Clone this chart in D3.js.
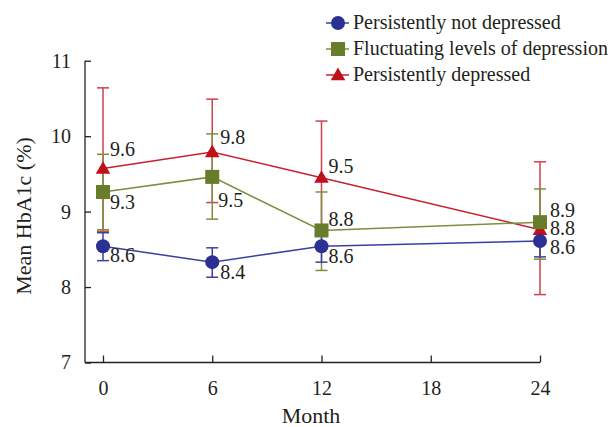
<!DOCTYPE html>
<html><head><meta charset="utf-8">
<script src="https://cdn.jsdelivr.net/npm/d3@7"></script>
<style>body{margin:0;background:#fff}svg{display:block}
svg text{font-family:"Liberation Serif","Times New Roman","DejaVu Serif",serif;}</style>
</head><body>
<svg id="c" width="613" height="427"></svg>
<script>
const months = [0, 6, 12, 24];
const seriesNames = ["Persistently not depressed", "Fluctuating levels of depression", "Persistently depressed"];
const notDepMean = [8.54, 8.33, 8.54, 8.61];
const notDepLow  = [8.35, 8.13, 8.33, 8.40];
const notDepHigh = [8.72, 8.52, 8.71, 8.80];
const notDepLabels = ["8.6", "8.4", "8.6", "8.6"];
const fluctMean = [9.26, 9.46, 8.75, 8.86];
const fluctLow  = [8.76, 8.90, 8.22, 8.37];
const fluctHigh = [9.76, 10.03, 9.26, 9.30];
const fluctLabels = ["9.3", "9.5", "8.8", "8.9"];
const depMean = [9.57, 9.79, 9.45, 8.76];
const depLow  = [8.74, 9.12, 8.72, 7.90];
const depHigh = [10.64, 10.49, 10.20, 9.66];
const depLabels = ["9.6", "9.8", "9.5", "8.8"];
const xTicks = [0, 6, 12, 18, 24];
const yTicks = [7, 8, 9, 10, 11];

// label offsets (layout, px) per series per point
const labelOffsets = [
  [[7, 16], [8, 17], [7, 17], [10, 13]],
  [[7, 17], [6, 30], [7, -4], [10, -5]],
  [[7, -13], [8, -8], [7, -5], [10, 5]]
];

const FONT = '"Liberation Serif", "Times New Roman", "DejaVu Serif", serif';
const INK = "#231f20";
const svg = d3.select("#c");
const x = d3.scaleLinear().domain([0, 24]).range([103, 540]);
const y = d3.scaleLinear().domain([7, 11]).range([362.5, 60.7]);

function styleText(sel, size) {
  return sel.style("font-family", FONT).style("font-size", size + "px").attr("fill", INK);
}

// axes
const gx = svg.append("g").attr("transform", "translate(0,362.5)")
  .call(d3.axisBottom(x).tickValues(xTicks).tickSizeInner(-7).tickSizeOuter(0).tickPadding(18));
gx.attr("font-family", null).attr("font-size", null);
gx.select(".domain").attr("d", "M85,0H540").attr("stroke", "#222").attr("stroke-width", 1.3);
gx.selectAll(".tick line").attr("stroke", "#222").attr("stroke-width", 1.3);
styleText(gx.selectAll(".tick text"), 20);

const gy = svg.append("g").attr("transform", "translate(85,0)")
  .call(d3.axisLeft(y).tickValues(yTicks).tickFormat(d3.format("d")).tickSizeInner(-6).tickSizeOuter(0).tickPadding(14));
gy.attr("font-family", null).attr("font-size", null);
gy.select(".domain").attr("d", "M0,60.7V362.5").attr("stroke", "#222").attr("stroke-width", 1.3);
gy.selectAll(".tick line").attr("stroke", "#222").attr("stroke-width", 1.3);
styleText(gy.selectAll(".tick text"), 20);

styleText(svg.append("text").attr("x", 311).attr("y", 423).attr("text-anchor", "middle"), 22).text("Month");
styleText(svg.append("text").attr("transform", "translate(31,216) rotate(-90)").attr("text-anchor", "middle"), 22)
  .text("Mean HbA1c (%)");

const series = [
  {name: seriesNames[0], mean: notDepMean, low: notDepLow, high: notDepHigh, labels: notDepLabels,
   color: "#2b3092", line: "#3b40a0", err: "#3b40a0", shape: "circle"},
  {name: seriesNames[1], mean: fluctMean, low: fluctLow, high: fluctHigh, labels: fluctLabels,
   color: "#677d2c", line: "#7c8f3f", err: "#7c8f3f", shape: "square"},
  {name: seriesNames[2], mean: depMean, low: depLow, high: depHigh, labels: depLabels,
   color: "#c0101c", line: "#c8202c", err: "#d0404c", shape: "triangle"}
];

function marker(g, shape, cx, cy, color) {
  if (shape === "circle") g.append("circle").attr("cx", cx).attr("cy", cy).attr("r", 7).attr("fill", color);
  else if (shape === "square") g.append("rect").attr("x", cx - 7).attr("y", cy - 7).attr("width", 14).attr("height", 14).attr("fill", color);
  else g.append("path").attr("d", d3.symbol(d3.symbolTriangle, 92)()).attr("transform", `translate(${cx},${cy + 1})`).attr("fill", color);
}

const drawOrder = [2, 1, 0];
const lineGen = d3.line().x(d => x(d[0])).y(d => y(d[1]));
drawOrder.forEach(si => {
  const s = series[si];
  const g = svg.append("g");
  months.forEach((m, i) => {
    const cx = x(m);
    g.append("line").attr("x1", cx).attr("x2", cx).attr("y1", y(s.low[i])).attr("y2", y(s.high[i]))
      .attr("stroke", s.err).attr("stroke-width", 1.5);
    [s.low[i], s.high[i]].forEach(v => g.append("line").attr("x1", cx - 6).attr("x2", cx + 6)
      .attr("y1", y(v)).attr("y2", y(v)).attr("stroke", s.err).attr("stroke-width", 1.5));
  });
  g.append("path").attr("d", lineGen(months.map((m, i) => [m, s.mean[i]])))
    .attr("fill", "none").attr("stroke", s.line).attr("stroke-width", 1.5);
});
drawOrder.forEach(si => {
  const s = series[si];
  months.forEach((m, i) => marker(svg, s.shape, x(m), y(s.mean[i]), s.color));
});
series.forEach((s, si) => {
  months.forEach((m, i) => {
    const o = labelOffsets[si][i];
    styleText(svg.append("text").attr("x", x(m) + o[0]).attr("y", y(s.mean[i]) + o[1]), 20).text(s.labels[i]);
  });
});

// legend
const lg = svg.append("g");
series.forEach((s, i) => {
  const cy = 23 + i * 26;
  lg.append("line").attr("x1", 326).attr("x2", 349).attr("y1", cy).attr("y2", cy).attr("stroke", s.line).attr("stroke-width", 1.5);
  marker(lg, s.shape, 338, cy, s.color);
  styleText(lg.append("text").attr("x", 353).attr("y", cy + 6), 20).text(s.name);
});
</script>
</body></html>
